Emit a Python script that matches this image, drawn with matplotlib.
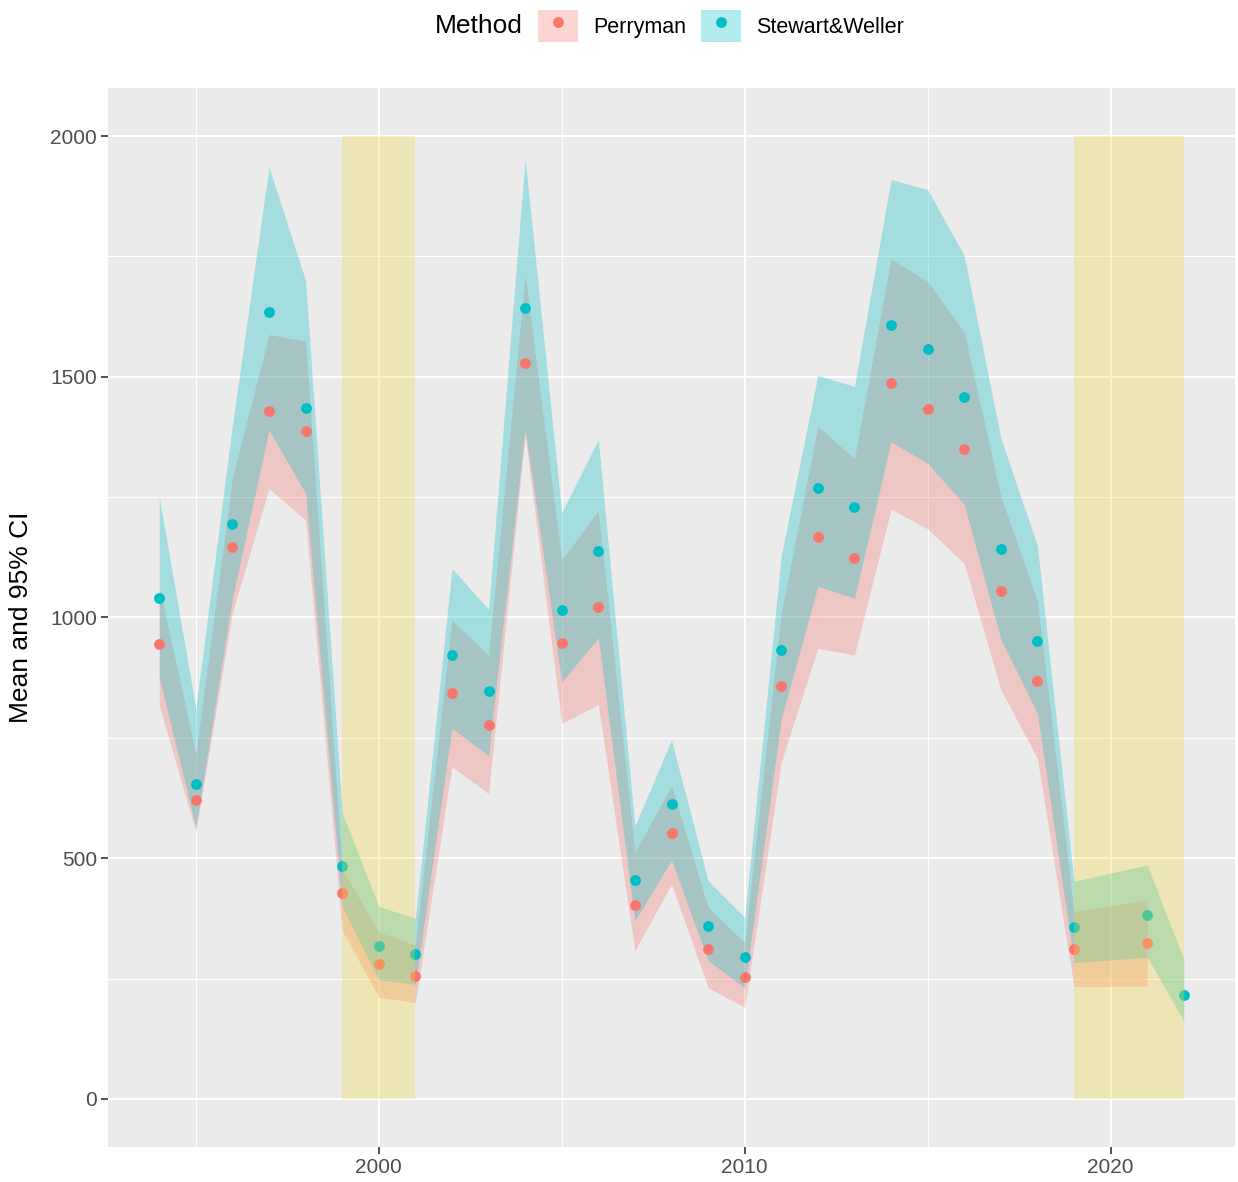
import numpy as np
import pandas as pd
import matplotlib
matplotlib.use('Agg')
import matplotlib.pyplot as plt
from matplotlib.patches import Patch
from matplotlib.lines import Line2D
from matplotlib.legend_handler import HandlerTuple

plt.rcParams['font.family'] = ['Liberation Sans', 'DejaVu Sans']

years = list(range(1994, 2023))

# Perryman (no estimate for 2020 and 2022)
perry_mean = [945, 620, 1146, 1430, 1387, 427, 280, 256, 843, 776, 1528, 946, 1021, 403,
              552, 311, 254, 858, 1168, 1123, 1487, 1434, 1350, 1055, 868, 311, None, 324, None]
perry_low = [817, 555, 1010, 1268, 1202, 350, 211, 200, 690, 634, 1378, 780, 819, 308,
             446, 231, 190, 700, 936, 922, 1225, 1184, 1112, 850, 707, 233, None, 234, None]
perry_high = [1065, 717, 1290, 1588, 1574, 478, 346, 320, 995, 921, 1713, 1120, 1222, 512,
              651, 398, 325, 1010, 1397, 1330, 1745, 1698, 1593, 1252, 1034, 389, None, 413, None]

# Stewart&Weller (no estimate for 2020)
sw_mean = [1040, 655, 1195, 1635, 1435, 484, 318, 301, 923, 847, 1643, 1015, 1138, 455,
           613, 360, 295, 932, 1268, 1229, 1607, 1557, 1458, 1143, 951, 356, None, 383, 216]
sw_low = [875, 565, 1040, 1389, 1258, 400, 248, 238, 770, 713, 1392, 866, 958, 370,
          496, 287, 231, 790, 1065, 1040, 1365, 1320, 1235, 955, 801, 283, None, 294, 162]
sw_high = [1250, 811, 1400, 1936, 1700, 595, 400, 375, 1102, 1017, 1954, 1218, 1370, 567,
           746, 453, 377, 1129, 1503, 1480, 1910, 1889, 1752, 1373, 1149, 452, None, 486, 290]

methods = ['Perryman', 'Stewart&Weller']
colors = {'Perryman': '#F8766D', 'Stewart&Weller': '#00BFC4'}

# shaded periods
shade_periods = [(1999, 2001), (2019, 2022)]
shade_top = 2000

rows = []
for i, y in enumerate(years):
    rows.append(('Perryman', y, perry_mean[i], perry_low[i], perry_high[i]))
    rows.append(('Stewart&Weller', y, sw_mean[i], sw_low[i], sw_high[i]))
df = pd.DataFrame(rows, columns=['Method', 'Year', 'mean', 'low', 'high']).dropna()

W, H = 1238, 1182
fig = plt.figure(figsize=(W / 100, H / 100), dpi=100)
ax = fig.add_axes([108 / W, 35 / H, (1235 - 108) / W, (1147 - 88) / H])
ax.set_facecolor('#EBEBEB')

for m in methods:
    d = df[df.Method == m]
    ax.fill_between(d.Year, d.low, d.high, color=colors[m], alpha=0.3, lw=0, zorder=3)
for m in methods:
    d = df[df.Method == m]
    ax.plot(d.Year, d['mean'], 'o', color=colors[m], markersize=7.8, mec='none', zorder=4)

# yellow boxes drawn over everything, semi transparent
for x0, x1 in shade_periods:
    ax.fill_between([x0, x1], 0, shade_top, color='#F5D83C', alpha=0.3, lw=0, zorder=5)

ax.set_xlim(1992.6, 2023.4)
ax.set_ylim(-100, 2100)
ax.set_xticks([2000, 2010, 2020])
ax.set_xticks([1995, 2005, 2015], minor=True)
ax.set_yticks([0, 500, 1000, 1500, 2000])
ax.set_yticks([250, 750, 1250, 1750], minor=True)
ax.grid(which='major', color='white', lw=1.5, zorder=1)
ax.grid(which='minor', color='white', lw=0.75, zorder=1)
ax.set_axisbelow(True)
for s in ax.spines.values():
    s.set_visible(False)
ax.tick_params(which='major', length=5, width=1.2, color='#333333',
               labelsize=15, labelcolor='#4D4D4D', pad=3)
ax.tick_params(which='minor', length=0)

ax.set_ylabel('Mean and 95% CI', fontsize=19, color='black', labelpad=12)

# legend at top
fig.text(435 / W, 1 - 26 / H, 'Method', fontsize=19, va='center', ha='left')
handles = []
for m in methods:
    handles.append((Patch(facecolor=colors[m], alpha=0.3, edgecolor='none'),
                    Line2D([], [], marker='o', ls='none', color=colors[m],
                           markersize=7.8, mec='none')))
fig.legend(handles, methods, handler_map={tuple: HandlerTuple(ndivide=1)},
           loc='center left', bbox_to_anchor=(538 / W, 1 - 26 / H), ncol=2,
           frameon=False, fontsize=15.5, handlelength=1.85, handleheight=1.85,
           handletextpad=0.7, columnspacing=0.7, borderpad=0, borderaxespad=0)

fig.savefig('out.png', dpi=100, facecolor='white')
